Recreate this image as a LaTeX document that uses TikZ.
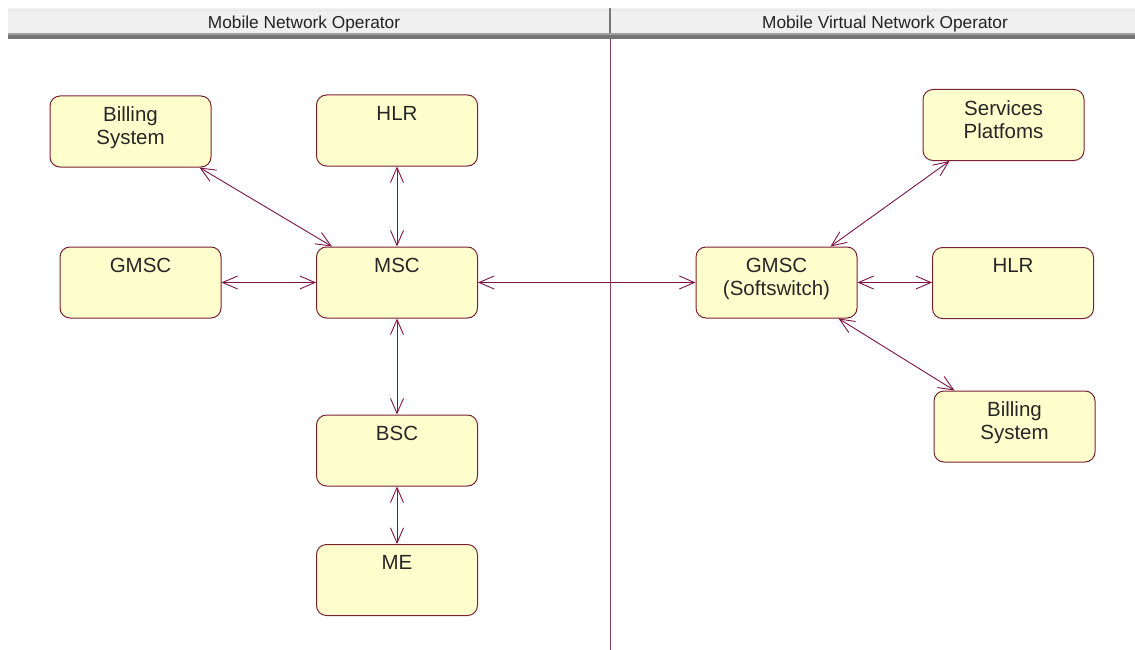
\documentclass[tikz,border=0pt]{standalone}
\usepackage{fontspec}
\setmainfont{Liberation Sans}
\usetikzlibrary{arrows.meta,calc}

\definecolor{boxfill}{RGB}{255,255,206}
\definecolor{boxline}{RGB}{122,34,52}
\definecolor{linkcol}{RGB}{125,20,70}
\definecolor{headfill}{RGB}{240,240,240}
\definecolor{headtop}{RGB}{228,228,228}
\definecolor{headdark}{RGB}{118,118,118}
\definecolor{headmid}{RGB}{160,160,160}
\definecolor{headtext}{RGB}{35,35,35}
\definecolor{splitcol}{RGB}{140,60,95}

% box text sits near the top of the state box
\newcommand\boxtext[1]{\parbox[c][71pt][t]{161pt}{\centering\vspace*{11pt}#1\par}}

\begin{document}
\begin{tikzpicture}[x=1pt,y=-1pt,
  statebox/.style={draw=boxline, line width=1pt, fill=boxfill, rounded corners=10pt,
    minimum width=161pt, minimum height=71pt, inner sep=0pt,
    font=\fontsize{20.5}{23}\selectfont, text=black!85},
  link/.style={draw=linkcol, line width=0.9pt,
    {Straight Barb[length=15pt,width=13pt,line width=0.9pt]}-{Straight Barb[length=15pt,width=13pt,line width=0.9pt]}},
  headlabel/.style={anchor=base, inner sep=0pt, text=headtext,
    font=\fontsize{17.3}{20}\selectfont}]
\useasboundingbox (0,0) rectangle (1135,650);
\fill[white] (0,0) rectangle (1135,650);

% swimlane header
\fill[headfill] (8,8) rectangle (1135,33);
\fill[headtop] (8,10) rectangle (1135,11.5);
\fill[headmid] (8,33) rectangle (1135,35);
\fill[headdark] (8,35) rectangle (1135,39);
\fill[headdark] (609,8) rectangle (611,33);
\draw[splitcol, line width=0.8pt] (610,39) -- (610,650);
\node[headlabel] (lanemno) at (304,29) {Mobile Network Operator};
\node[headlabel] (lanemvno) at (885,29) {Mobile Virtual Network Operator};

% operator side
\node[statebox] (billL) at (130.5,131.5) {\boxtext{Billing\\System}};
\node[statebox] (hlrL)  at (397,130.5) {\boxtext{HLR}};
\node[statebox] (gmscL) at (140.5,282.5) {\boxtext{GMSC}};
\node[statebox] (msc)   at (397,282.5) {\boxtext{MSC}};
\node[statebox] (bsc)   at (397,450.5) {\boxtext{BSC}};
\node[statebox] (me)    at (397,580) {\boxtext{ME}};

% virtual operator side
\node[statebox] (svc)   at (1003.5,125) {\boxtext{Services\\Platfoms}};
\node[statebox] (gmscR) at (776.5,282.5) {\boxtext{GMSC\\(Softswitch)}};
\node[statebox] (hlrR)  at (1013,283) {\boxtext{HLR}};
\node[statebox] (billR) at (1014.5,426.5) {\boxtext{Billing\\System}};

% connectors
\draw[link] ($(billL.south east)+(-12,0)$) -- ($(msc.north west)+(16,0)$);
\draw[link] (hlrL.south) -- (msc.north);
\draw[link] (gmscL.east) -- (msc.west);
\draw[link] (msc.south) -- (bsc.north);
\draw[link] (bsc.south) -- (me.north);
\draw[link] (msc.east) -- (gmscR.west);
\draw[link] ($(gmscR.north east)+(-27,0)$) -- ($(svc.south west)+(27,0)$);
\draw[link] (gmscR.east) -- (gmscR.east -| hlrR.west);
\draw[link] ($(gmscR.south east)+(-19,0)$) -- ($(billR.north west)+(21,0)$);
\end{tikzpicture}
\end{document}
